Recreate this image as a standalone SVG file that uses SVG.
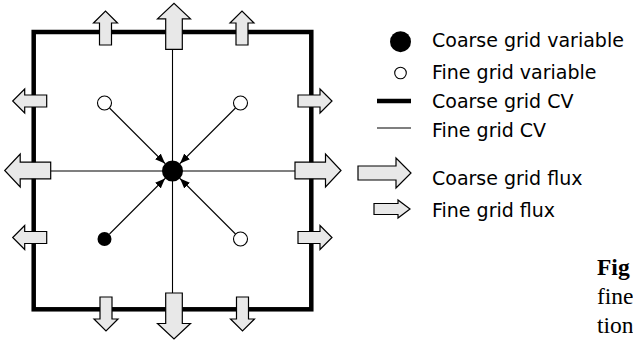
<svg xmlns="http://www.w3.org/2000/svg" width="633" height="340" viewBox="0 0 633 340">
<style>
.flux{fill:#e8e8e8;stroke:#000;stroke-width:1.2;stroke-linejoin:miter}
.thin{stroke:#000;stroke-width:1.1;fill:none}
.thick{stroke:#000;stroke-width:4.5;fill:none}
.lbl{font-family:"DejaVu Sans",sans-serif;font-size:19px;fill:#000}
.cap{font-family:"Liberation Serif",serif;font-size:23.5px;fill:#000}
</style>
<defs>
<path id="bigArrow" d="M0,-8.3 H30.5 V-16.5 L46,0 L30.5,16.5 V8.3 H0 Z"/>
<path id="smallArrow" d="M0,-6 H22 V-12 L34,0 L22,12 V6 H0 Z"/>
<marker id="ah" viewBox="0 0 10 8" refX="10" refY="4" markerWidth="10" markerHeight="8" markerUnits="userSpaceOnUse" orient="auto">
<path d="M0,0 L10,4 L0,8 Z" fill="#000"/>
</marker>
</defs>

<g id="coarse-cv">
<rect class="thick" x="33.7" y="32" width="277.6" height="277.3"/>
</g>

<g id="connectors">
<line class="thin" x1="172.5" y1="49" x2="172.5" y2="293"/>
<line class="thin" x1="50.7" y1="171" x2="295" y2="171"/>
<line class="thin" x1="109.5" y1="108" x2="165" y2="163.5" marker-end="url(#ah)"/>
<line class="thin" x1="235.5" y1="108" x2="180" y2="163.5" marker-end="url(#ah)"/>
<line class="thin" x1="109.5" y1="234" x2="165" y2="178.5" marker-end="url(#ah)"/>
<line class="thin" x1="235.5" y1="234" x2="180" y2="178.5" marker-end="url(#ah)"/>
</g>

<g id="coarse-fluxes">
<use href="#bigArrow" class="flux" transform="translate(174,49.3) rotate(-90)"/>
<use href="#bigArrow" class="flux" transform="translate(174,293) rotate(90)"/>
<use href="#bigArrow" class="flux" transform="translate(50.7,170.5) rotate(180)"/>
<use href="#bigArrow" class="flux" transform="translate(295,170.5)"/>
</g>

<g id="fine-fluxes">
<use href="#smallArrow" class="flux" transform="translate(105.5,45) rotate(-90)"/>
<use href="#smallArrow" class="flux" transform="translate(242,45) rotate(-90)"/>
<use href="#smallArrow" class="flux" transform="translate(106,297) rotate(90)"/>
<use href="#smallArrow" class="flux" transform="translate(242.5,297) rotate(90)"/>
<use href="#smallArrow" class="flux" transform="translate(46.7,101) rotate(180)"/>
<use href="#smallArrow" class="flux" transform="translate(46.7,237.5) rotate(180)"/>
<use href="#smallArrow" class="flux" transform="translate(298,101)"/>
<use href="#smallArrow" class="flux" transform="translate(298,237.5)"/>
</g>

<g id="center-node"><circle cx="172.5" cy="171" r="10.5" fill="#000"/></g>
<g id="fine-tl"><circle cx="104.5" cy="103" r="7" fill="#fff" stroke="#000" stroke-width="1.1"/></g>
<g id="fine-tr"><circle cx="240.5" cy="103" r="7" fill="#fff" stroke="#000" stroke-width="1.1"/></g>
<g id="coarse-bl"><circle cx="104.5" cy="239" r="7" fill="#000"/></g>
<g id="fine-br"><circle cx="240.5" cy="239" r="7" fill="#fff" stroke="#000" stroke-width="1.1"/></g>

<g id="legend">
<circle cx="400.5" cy="41.7" r="10.5" fill="#000"/>
<text class="lbl" x="432" y="47">Coarse grid variable</text>
<circle cx="400.5" cy="73" r="5.8" fill="#fff" stroke="#000" stroke-width="1.1"/>
<text class="lbl" x="432" y="78.5">Fine grid variable</text>
<line x1="377" y1="101" x2="411" y2="101" stroke="#000" stroke-width="4.5"/>
<text class="lbl" x="432" y="108">Coarse grid CV</text>
<line x1="377" y1="128" x2="411" y2="128" stroke="#000" stroke-width="1.1"/>
<text class="lbl" x="432" y="137">Fine grid CV</text>
<path class="flux" d="M358,166 H396 V158 L411,173 L396,188 V180 H358 Z"/>
<text class="lbl" x="432" y="184.5">Coarse grid flux</text>
<path class="flux" d="M374,203.5 H398 V200 L410,209 L398,218 V214.5 H374 Z"/>
<text class="lbl" x="432" y="216.5">Fine grid flux</text>
</g>

<g id="caption">
<text class="cap" x="597" y="275" font-weight="bold">Fig</text>
<text class="cap" x="597" y="304">fine</text>
<text class="cap" x="597" y="332.5">tion</text>
</g>
</svg>
